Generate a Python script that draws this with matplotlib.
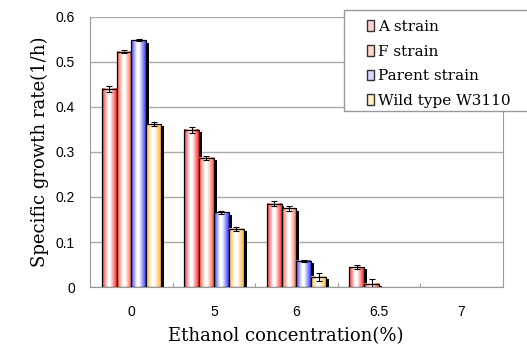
import numpy as np
import matplotlib.pyplot as plt
from matplotlib.colors import LinearSegmentedColormap
from matplotlib.patches import Patch, Rectangle

# data
concentrations = ["0", "5", "6", "6.5", "7"]
series_names = ["A strain", "F strain", "Parent strain", "Wild type W3110"]
a_strain = [0.440, 0.349, 0.185, 0.044, 0.0]
f_strain = [0.523, 0.287, 0.175, 0.007, 0.0]
parent_strain = [0.548, 0.166, 0.058, 0.0, 0.0]
wild_type = [0.362, 0.129, 0.023, 0.0, 0.0]
a_err = [0.006, 0.007, 0.006, 0.005, 0.0]
f_err = [0.003, 0.005, 0.005, 0.010, 0.0]
parent_err = [0.002, 0.003, 0.003, 0.0, 0.0]
wild_err = [0.004, 0.005, 0.009, 0.0, 0.0]

values = [a_strain, f_strain, parent_strain, wild_type]
errors = [a_err, f_err, parent_err, wild_err]
colors = ["#ff2a2a", "#ff5a3c", "#3a3aff", "#ffb53a"]

serif = ["DejaVu Serif"]
sans = ["Liberation Sans", "DejaVu Sans"]

fig = plt.figure(figsize=(5.27, 3.45), dpi=100)
ax = fig.add_axes([0.171, 0.168, 0.783, 0.783])

x = np.arange(len(concentrations))
width = 0.18
offsets = (np.arange(4) - 1.5) * width

for i in range(4):
    cmap = LinearSegmentedColormap.from_list(
        "g%d" % i, [(0, colors[i]), (0.4, "white"), (0.55, "white"), (1, colors[i])])
    grad = np.linspace(0, 1, 64).reshape(1, -1)
    for j in range(len(x)):
        h = values[i][j]
        x0 = x[j] + offsets[i] - width / 2
        if h <= 0:
            continue
        # shadow
        ax.bar(x0 + width / 2 + 0.035, h - 0.005, width, color="black", zorder=2 + i * 0.1)
        ax.imshow(grad, cmap=cmap, extent=(x0, x0 + width, 0, h), aspect="auto",
                  interpolation="bilinear", zorder=3 + i * 0.1)
        ax.bar(x0 + width / 2, h, width, facecolor="none", edgecolor="black",
               linewidth=0.9, zorder=3.05 + i * 0.1)
        if errors[i][j] > 0:
            ax.errorbar(x0 + width / 2, h, yerr=errors[i][j], fmt="none", ecolor="black",
                        elinewidth=0.8, capsize=2, capthick=0.8, zorder=5)

ax.set_xlim(-0.5, len(x) - 0.5)
ax.set_ylim(0, 0.6)
ax.set_yticks(np.arange(0, 0.61, 0.1))
ax.set_yticklabels(["0", "0.1", "0.2", "0.3", "0.4", "0.5", "0.6"], family=sans, fontsize=10)
ax.set_xticks(x)
ax.set_xticklabels(concentrations, family=sans, fontsize=10)
ax.set_xticks(np.arange(0.5, len(x) - 0.5, 1), minor=True)
ax.tick_params(axis="x", which="major", length=0, pad=13)
ax.tick_params(axis="x", which="minor", length=3, direction="in", color="#888888")
ax.tick_params(axis="y", length=0, pad=11)
ax.yaxis.grid(True, color="#aaaaaa", linewidth=1)
ax.set_axisbelow(True)
for side in ["left", "bottom", "right"]:
    ax.spines[side].set_color("#999999")
ax.spines["top"].set_visible(False)

ax.set_ylabel("Specific growth rate(1/h)", family=serif, fontsize=13, labelpad=5)
ax.set_xlabel("Ethanol concentration(%)", family=serif, fontsize=13)
ax.xaxis.set_label_coords(0.475, -0.148)
ax.xaxis.label.set_va("top")

# legend frame reaches past the right edge of the figure
fig.patches.append(Rectangle((344 / 527, 1 - 111 / 345), 0.5, 101 / 345,
                             transform=fig.transFigure, facecolor="white",
                             edgecolor="#999999", linewidth=1, zorder=10))

handles = [Patch(facecolor="#ffd0d0"), Patch(facecolor="#ffd5c8"),
           Patch(facecolor="#d8d8ff"), Patch(facecolor="#fff0c8")]
for hnd in handles:
    hnd.set_edgecolor("#333333")
leg = fig.legend(handles, series_names, loc="upper left",
                 bbox_to_anchor=(367 / 527, 1 - 20 / 345),
                 prop={"family": serif, "size": 11}, frameon=False,
                 handlelength=0.45, handleheight=0.7,
                 handletextpad=0.25, labelspacing=0.7, borderpad=0, borderaxespad=0)
leg.set_zorder(11)

fig.savefig("out.png", dpi=100)
